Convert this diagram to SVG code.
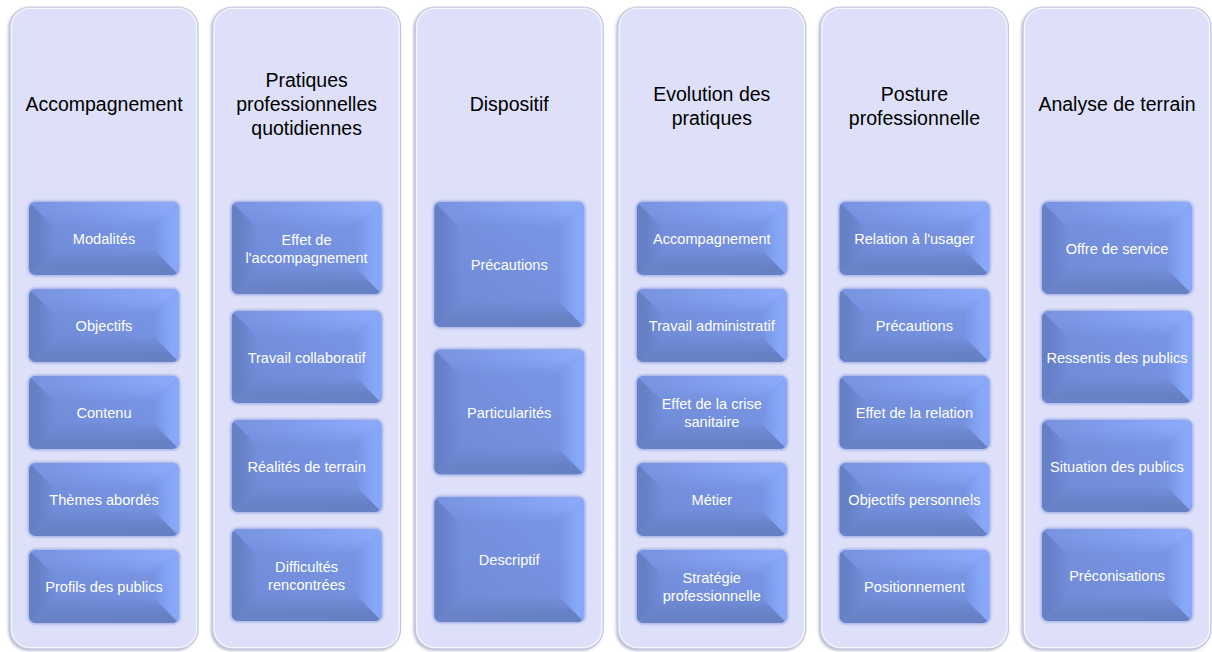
<svg xmlns="http://www.w3.org/2000/svg" xmlns:xlink="http://www.w3.org/1999/xlink" width="1212" height="652" viewBox="0 0 1212 652">
<style>
.col{fill:#dde0f8;stroke:#c3c7dc;stroke-width:1.2}
.colhl{fill:none;stroke:#ffffff;stroke-opacity:0.75;stroke-width:1.2}
.colsh{fill:#aeb2c8}
.title{font-family:"Liberation Sans",Arial,sans-serif;font-size:19.5px;fill:#000;text-anchor:middle}
.lbl{font-family:"Liberation Sans",Arial,sans-serif;font-size:14.6px;fill:#ffffff;text-anchor:middle}
</style>
<defs>
<filter id="blur" x="-10%" y="-10%" width="120%" height="120%"><feGaussianBlur stdDeviation="1.5"/></filter>
<filter id="glow" x="-10%" y="-10%" width="120%" height="120%"><feGaussianBlur stdDeviation="1.2"/></filter>
<linearGradient id="gc" x1="0" y1="1" x2="1" y2="0"><stop offset="0" stop-color="#6f88d4"/><stop offset="1" stop-color="#7a98e7"/></linearGradient>
<linearGradient id="gt" x1="0" y1="0" x2="1" y2="0"><stop offset="0" stop-color="#7892df"/><stop offset="1" stop-color="#8cabfa"/></linearGradient>
<linearGradient id="gb" x1="0" y1="0" x2="1" y2="0"><stop offset="0" stop-color="#6a83c8"/><stop offset="1" stop-color="#6680c4"/></linearGradient>
<linearGradient id="fT" x1="0" y1="0" x2="0" y2="1"><stop offset="0.3" stop-color="#fff"/><stop offset="1" stop-color="#000"/></linearGradient>
<linearGradient id="fB" x1="0" y1="1" x2="0" y2="0"><stop offset="0.3" stop-color="#fff"/><stop offset="1" stop-color="#000"/></linearGradient>
<linearGradient id="fL" x1="0" y1="0" x2="1" y2="0"><stop offset="0.3" stop-color="#fff"/><stop offset="1" stop-color="#000"/></linearGradient>
<linearGradient id="fR" x1="1" y1="0" x2="0" y2="0"><stop offset="0.3" stop-color="#fff"/><stop offset="1" stop-color="#000"/></linearGradient>
<mask id="mT" maskContentUnits="objectBoundingBox"><rect width="1" height="1" fill="url(#fT)"/></mask>
<mask id="mB" maskContentUnits="objectBoundingBox"><rect width="1" height="1" fill="url(#fB)"/></mask>
<mask id="mL" maskContentUnits="objectBoundingBox"><rect width="1" height="1" fill="url(#fL)"/></mask>
<mask id="mR" maskContentUnits="objectBoundingBox"><rect width="1" height="1" fill="url(#fR)"/></mask>
<clipPath id="c5"><rect width="150" height="73" rx="7"/></clipPath>
<clipPath id="c4"><rect width="150" height="92" rx="7"/></clipPath>
<clipPath id="c3"><rect width="150" height="125" rx="7"/></clipPath>
<g id="b5">
<rect x="-1.5" y="-1.5" width="153" height="76" rx="8" fill="#a7b3e8" filter="url(#glow)"/>
<g clip-path="url(#c5)">
<rect width="150" height="73" fill="url(#gc)"/>
<polygon points="0,0 150,0 124,26 26,26" fill="url(#gt)" mask="url(#mT)"/>
<polygon points="0,73 26,47 124,47 150,73" fill="url(#gb)" mask="url(#mB)"/>
<polygon points="0,0 26,26 26,47 0,73" fill="#6680c6" mask="url(#mL)"/>
<polygon points="150,0 150,73 124,47 124,26" fill="#87a7f8" mask="url(#mR)"/>
</g>
</g>
<g id="b4">
<rect x="-1.5" y="-1.5" width="153" height="95" rx="8" fill="#a7b3e8" filter="url(#glow)"/>
<g clip-path="url(#c4)">
<rect width="150" height="92" fill="url(#gc)"/>
<polygon points="0,0 150,0 124,26 26,26" fill="url(#gt)" mask="url(#mT)"/>
<polygon points="0,92 26,66 124,66 150,92" fill="url(#gb)" mask="url(#mB)"/>
<polygon points="0,0 26,26 26,66 0,92" fill="#6680c6" mask="url(#mL)"/>
<polygon points="150,0 150,92 124,66 124,26" fill="#87a7f8" mask="url(#mR)"/>
</g>
</g>
<g id="b3">
<rect x="-1.5" y="-1.5" width="153" height="128" rx="8" fill="#a7b3e8" filter="url(#glow)"/>
<g clip-path="url(#c3)">
<rect width="150" height="125" fill="url(#gc)"/>
<polygon points="0,0 150,0 124,26 26,26" fill="url(#gt)" mask="url(#mT)"/>
<polygon points="0,125 26,99 124,99 150,125" fill="url(#gb)" mask="url(#mB)"/>
<polygon points="0,0 26,26 26,99 0,125" fill="#6680c6" mask="url(#mL)"/>
<polygon points="150,0 150,125 124,99 124,26" fill="#87a7f8" mask="url(#mR)"/>
</g>
</g>
<g id="colbg">
<rect x="-1.5" y="1.5" width="188" height="642" rx="20" class="colsh" filter="url(#blur)"/>
<rect x="0" y="0" width="188" height="642" rx="20" class="col"/>
<rect x="1.5" y="1.5" width="185" height="639" rx="18.5" class="colhl"/>
</g>
</defs>

<g id="col-accompagnement">
<use xlink:href="#colbg" x="10" y="7"/>
<text class="title" x="104" y="111">Accompagnement</text>
<g id="n-modalites"><use xlink:href="#b5" x="29" y="202"/><text class="lbl" x="104" y="244">Modalités</text></g>
<g id="n-objectifs"><use xlink:href="#b5" x="29" y="289"/><text class="lbl" x="104" y="331">Objectifs</text></g>
<g id="n-contenu"><use xlink:href="#b5" x="29" y="376"/><text class="lbl" x="104" y="418">Contenu</text></g>
<g id="n-themes"><use xlink:href="#b5" x="29" y="463"/><text class="lbl" x="104" y="505">Thèmes abordés</text></g>
<g id="n-profils"><use xlink:href="#b5" x="29" y="550"/><text class="lbl" x="104" y="592">Profils des publics</text></g>
</g>

<g id="col-pratiques">
<use xlink:href="#colbg" x="212.6" y="7"/>
<text class="title" x="306.6" y="87">Pratiques</text>
<text class="title" x="306.6" y="111">professionnelles</text>
<text class="title" x="306.6" y="135">quotidiennes</text>
<g id="n-effet-accompagnement"><use xlink:href="#b4" x="231.6" y="202"/><text class="lbl" x="306.6" y="244.5">Effet de</text><text class="lbl" x="306.6" y="262.5">l'accompagnement</text></g>
<g id="n-travail-collaboratif"><use xlink:href="#b4" x="231.6" y="311"/><text class="lbl" x="306.6" y="362.5">Travail collaboratif</text></g>
<g id="n-realites"><use xlink:href="#b4" x="231.6" y="420"/><text class="lbl" x="306.6" y="471.5">Réalités de terrain</text></g>
<g id="n-difficultes"><use xlink:href="#b4" x="231.6" y="529"/><text class="lbl" x="306.6" y="571.5">Difficultés</text><text class="lbl" x="306.6" y="589.5">rencontrées</text></g>
</g>

<g id="col-dispositif">
<use xlink:href="#colbg" x="415.2" y="7"/>
<text class="title" x="509.2" y="111">Dispositif</text>
<g id="n-precautions-d"><use xlink:href="#b3" x="434.2" y="202"/><text class="lbl" x="509.2" y="270">Précautions</text></g>
<g id="n-particularites"><use xlink:href="#b3" x="434.2" y="349.5"/><text class="lbl" x="509.2" y="417.5">Particularités</text></g>
<g id="n-descriptif"><use xlink:href="#b3" x="434.2" y="497"/><text class="lbl" x="509.2" y="565">Descriptif</text></g>
</g>

<g id="col-evolution">
<use xlink:href="#colbg" x="617.8" y="7"/>
<text class="title" x="711.8" y="101">Evolution des</text>
<text class="title" x="711.8" y="125">pratiques</text>
<g id="n-accompagnement-e"><use xlink:href="#b5" x="636.8" y="202"/><text class="lbl" x="711.8" y="244">Accompagnement</text></g>
<g id="n-travail-admin"><use xlink:href="#b5" x="636.8" y="289"/><text class="lbl" x="711.8" y="331">Travail administratif</text></g>
<g id="n-crise"><use xlink:href="#b5" x="636.8" y="376"/><text class="lbl" x="711.8" y="409">Effet de la crise</text><text class="lbl" x="711.8" y="427">sanitaire</text></g>
<g id="n-metier"><use xlink:href="#b5" x="636.8" y="463"/><text class="lbl" x="711.8" y="505">Métier</text></g>
<g id="n-strategie"><use xlink:href="#b5" x="636.8" y="550"/><text class="lbl" x="711.8" y="583">Stratégie</text><text class="lbl" x="711.8" y="601">professionnelle</text></g>
</g>

<g id="col-posture">
<use xlink:href="#colbg" x="820.4" y="7"/>
<text class="title" x="914.4" y="101">Posture</text>
<text class="title" x="914.4" y="125">professionnelle</text>
<g id="n-relation-usager"><use xlink:href="#b5" x="839.4" y="202"/><text class="lbl" x="914.4" y="244">Relation à l'usager</text></g>
<g id="n-precautions-p"><use xlink:href="#b5" x="839.4" y="289"/><text class="lbl" x="914.4" y="331">Précautions</text></g>
<g id="n-effet-relation"><use xlink:href="#b5" x="839.4" y="376"/><text class="lbl" x="914.4" y="418">Effet de la relation</text></g>
<g id="n-objectifs-perso"><use xlink:href="#b5" x="839.4" y="463"/><text class="lbl" x="914.4" y="505">Objectifs personnels</text></g>
<g id="n-positionnement"><use xlink:href="#b5" x="839.4" y="550"/><text class="lbl" x="914.4" y="592">Positionnement</text></g>
</g>

<g id="col-analyse">
<use xlink:href="#colbg" x="1023" y="7"/>
<text class="title" x="1117" y="111">Analyse de terrain</text>
<g id="n-offre"><use xlink:href="#b4" x="1042" y="202"/><text class="lbl" x="1117" y="253.5">Offre de service</text></g>
<g id="n-ressentis"><use xlink:href="#b4" x="1042" y="311"/><text class="lbl" x="1117" y="362.5">Ressentis des publics</text></g>
<g id="n-situation"><use xlink:href="#b4" x="1042" y="420"/><text class="lbl" x="1117" y="471.5">Situation des publics</text></g>
<g id="n-preconisations"><use xlink:href="#b4" x="1042" y="529"/><text class="lbl" x="1117" y="580.5">Préconisations</text></g>
</g>

<g id="connectors"/>
</svg>
